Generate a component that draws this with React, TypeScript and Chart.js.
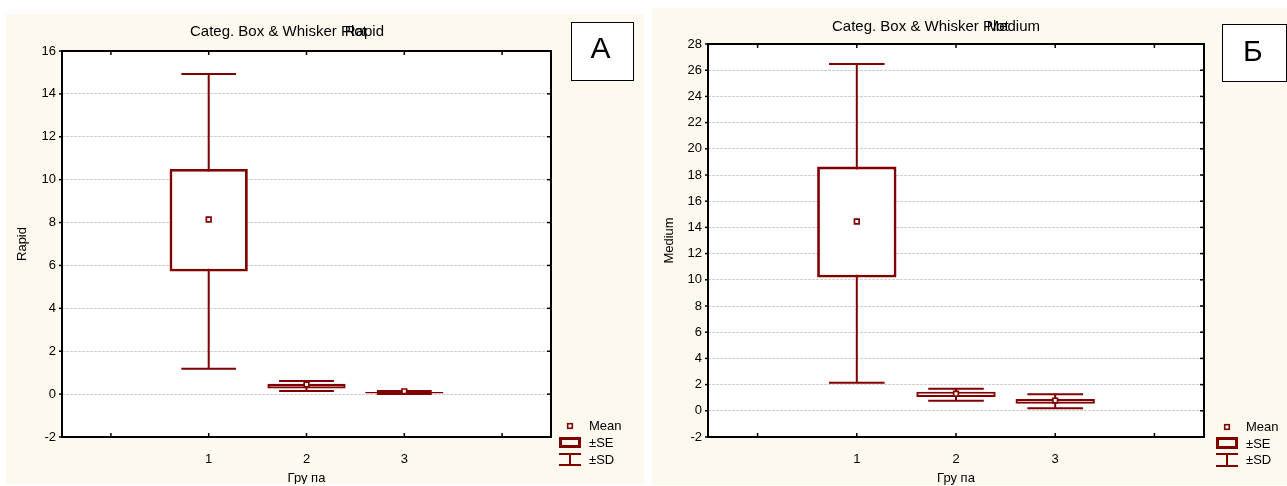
import React, { useEffect, useRef } from 'react';
import { Chart, registerables } from 'chart.js';

Chart.register(...registerables);

// ---------- data ----------
const groupPositions = [1, 2, 3];
const xTickValues = [0, 1, 2, 3, 4];
const xTickLabels = ['', '1', '2', '3', ''];
const xAxisTitle = 'Гру па';
const chartTitle = 'Categ. Box & Whisker Plot';
const legendLabels = ['Mean', '±SE', '±SD'];

const rapidMean = [8.14, 0.45, 0.13];
const rapidSeLow = [5.72, 0.26, 0.03];
const rapidSeHigh = [10.5, 0.48, 0.1];
const rapidSdLow = [1.18, 0.14, 0.0];
const rapidSdHigh = [14.93, 0.61, 0.14];
const rapidYTicks = [-2, 0, 2, 4, 6, 8, 10, 12, 14, 16];

const mediumMean = [14.45, 1.3, 0.78];
const mediumSeLow = [10.18, 1.05, 0.54];
const mediumSeHigh = [18.64, 1.46, 0.91];
const mediumSdLow = [2.14, 0.77, 0.19];
const mediumSdHigh = [26.47, 1.69, 1.26];
const mediumYTicks = [-2, 0, 2, 4, 6, 8, 10, 12, 14, 16, 18, 20, 22, 24, 26, 28];

// ---------- styles ----------
const MAROON = '#800000';
const CREAM = '#FEF9EE';
const FONT = '"Liberation Sans", Arial, sans-serif';
const CAP_HALF = 0.28;
const BOX_BORDER = [2.8, 2.2, 2.2];

Chart.defaults.font.family = FONT;
Chart.defaults.color = '#000';

const decorPlugin = {
  id: 'decor',
  beforeDraw(chart: any) {
    const { ctx, chartArea: a } = chart;
    ctx.save();
    ctx.fillStyle = '#fff';
    ctx.fillRect(a.left, a.top, a.right - a.left, a.bottom - a.top);
    ctx.restore();
  },
  afterDraw(chart: any, _args: any, o: any) {
    const { ctx, chartArea: a } = chart;
    const xs = chart.scales.x;
    const ys = chart.scales.y;
    ctx.save();
    // frame
    ctx.strokeStyle = '#000';
    ctx.lineWidth = 2;
    ctx.strokeRect(a.left, a.top, a.right - a.left, a.bottom - a.top);
    // inner ticks
    ctx.lineWidth = 1.5;
    const line = (x1: number, y1: number, x2: number, y2: number) => {
      ctx.beginPath();
      ctx.moveTo(x1, y1);
      ctx.lineTo(x2, y2);
      ctx.stroke();
    };
    xs.ticks.forEach((t: any) => {
      const px = xs.getPixelForValue(t.value);
      line(px, a.top, px, a.top + 4);
      line(px, a.bottom - 4, px, a.bottom);
    });
    ys.ticks.forEach((t: any) => {
      const py = ys.getPixelForValue(t.value);
      line(a.left - 3, py, a.left, py);
      line(a.right - 4, py, a.right, py);
    });
    // title (two overlapping pieces)
    ctx.fillStyle = '#000';
    ctx.font = '15px ' + FONT;
    ctx.textBaseline = 'middle';
    ctx.textAlign = 'left';
    ctx.fillText(o.title, o.titleLeftX, o.titleY);
    ctx.textAlign = 'right';
    ctx.fillText(o.titleVar, o.titleRightX, o.titleY);
    // letter box
    const lb = o.letterBox;
    ctx.fillStyle = '#fff';
    ctx.fillRect(lb[0], lb[1], lb[2], lb[3]);
    ctx.strokeStyle = '#000';
    ctx.lineWidth = 1;
    ctx.strokeRect(lb[0], lb[1], lb[2], lb[3]);
    ctx.fillStyle = '#000';
    ctx.font = '30px ' + FONT;
    ctx.textAlign = 'center';
    ctx.textBaseline = 'middle';
    ctx.fillText(o.letter, o.letterC[0], o.letterC[1]);
    // legend
    const L = o.legend;
    const cx = L.x + L.w / 2;
    ctx.strokeStyle = MAROON;
    ctx.fillStyle = '#fff';
    ctx.lineWidth = 1.6;
    ctx.fillRect(cx - 2.3, L.markerY - 2.3, 4.6, 4.6);
    ctx.strokeRect(cx - 2.3, L.markerY - 2.3, 4.6, 4.6);
    ctx.lineWidth = 3;
    ctx.strokeRect(L.x + 1.5, L.seTop + 1.5, L.w - 3, L.seH - 3);
    ctx.lineWidth = 2;
    line(L.x, L.sdTop + 1, L.x + L.w, L.sdTop + 1);
    line(L.x, L.sdTop + L.sdH - 1, L.x + L.w, L.sdTop + L.sdH - 1);
    line(cx, L.sdTop + 1, cx, L.sdTop + L.sdH - 1);
    ctx.fillStyle = '#000';
    ctx.font = '13px ' + FONT;
    ctx.textAlign = 'left';
    ctx.textBaseline = 'middle';
    legendLabels.forEach((t, i) => ctx.fillText(t, L.textX, L.textY[i]));
    ctx.restore();
  },
};

function buildConfig(p: any, g: any) {
  const whisker: any[] = [];
  groupPositions.forEach((x, i) => {
    const lo = p.sdLow[i];
    const hi = p.sdHigh[i];
    whisker.push(
      { x: x - CAP_HALF, y: hi }, { x: x + CAP_HALF, y: hi }, { x, y: null },
      { x, y: hi }, { x, y: lo }, { x, y: null },
      { x: x - CAP_HALF, y: lo }, { x: x + CAP_HALF, y: lo }, { x, y: null }
    );
  });
  const boxes = groupPositions.map((x, i) => ({ x, y: [p.seLow[i], p.seHigh[i]] }));
  const means = groupPositions.map((x, i) => ({ x, y: p.mean[i] }));
  const yTicks: number[] = p.yTicks;

  return {
    type: 'bar',
    data: {
      datasets: [
        {
          type: 'scatter',
          label: legendLabels[0],
          data: means,
          order: 0,
          pointStyle: 'rect',
          pointRadius: 3.3,
          borderWidth: 1.7,
          borderColor: MAROON,
          backgroundColor: '#fff',
        },
        {
          type: 'bar',
          label: legendLabels[1],
          data: boxes,
          order: 1,
          backgroundColor: '#fff',
          borderColor: MAROON,
          borderWidth: BOX_BORDER,
          borderSkipped: false,
          categoryPercentage: 0.8,
          barPercentage: 1,
        },
        {
          type: 'line',
          label: legendLabels[2],
          data: whisker,
          order: 2,
          borderColor: MAROON,
          borderWidth: 2,
          pointRadius: 0,
          fill: false,
          tension: 0,
          spanGaps: false,
          borderCapStyle: 'butt',
        },
      ],
    },
    options: {
      animation: false,
      responsive: false,
      devicePixelRatio: 1,
      events: [],
      layout: { padding: { left: 0, top: g.padTop, right: g.padRight, bottom: 0 } },
      plugins: {
        legend: { display: false },
        tooltip: { enabled: false },
        title: { display: false },
        decor: {
          title: chartTitle,
          titleVar: p.yLabel,
          titleLeftX: g.titleLeftX,
          titleRightX: g.titleRightX,
          titleY: g.titleY,
          letter: p.letter,
          letterBox: g.letterBox,
          letterC: g.letterC,
          legend: g.legend,
        },
      },
      scales: {
        x: {
          type: 'linear',
          min: -0.5,
          max: 4.5,
          offset: false,
          afterBuildTicks: (s: any) => {
            s.ticks = xTickValues.map((v) => ({ value: v }));
          },
          afterFit: (s: any) => {
            s.height = g.xHeight;
          },
          ticks: {
            autoSkip: false,
            maxRotation: 0,
            padding: 7,
            font: { size: 13 },
            color: '#000',
            callback: (_v: any, i: number) => xTickLabels[i],
          },
          grid: { display: false, offset: false },
          border: { display: false },
          title: {
            display: true,
            text: xAxisTitle,
            font: { size: 13, lineHeight: 1 },
            padding: { top: 0, bottom: g.xTitlePad },
            color: '#000',
          },
        },
        y: {
          type: 'linear',
          min: yTicks[0],
          max: yTicks[yTicks.length - 1],
          afterBuildTicks: (s: any) => {
            s.ticks = yTicks.map((v) => ({ value: v }));
          },
          afterFit: (s: any) => {
            s.width = g.yWidth;
          },
          ticks: {
            padding: 6,
            font: { size: 13 },
            color: '#000',
            callback: (v: any) => String(v),
          },
          grid: { display: true, drawTicks: false, color: '#d0d0d0', lineWidth: 1 },
          border: { display: false, dash: [3, 1] },
          title: {
            display: true,
            text: p.yLabel,
            font: { size: 13, lineHeight: 1 },
            padding: { top: g.yTitlePad, bottom: 0 },
            color: '#000',
          },
        },
      },
    },
    plugins: [decorPlugin],
  };
}

const rapidPanel = {
  yLabel: 'Rapid', letter: 'А',
  mean: rapidMean, seLow: rapidSeLow, seHigh: rapidSeHigh, sdLow: rapidSdLow, sdHigh: rapidSdHigh, yTicks: rapidYTicks,
};
const mediumPanel = {
  yLabel: 'Medium', letter: 'Б',
  mean: mediumMean, seLow: mediumSeLow, seHigh: mediumSeHigh, sdLow: mediumSdLow, sdHigh: mediumSdHigh, yTicks: mediumYTicks,
};

const leftGeom = {
  left: 6, top: 14, width: 638, height: 470,
  padTop: 37, padRight: 93, yWidth: 56, xHeight: 47, yTitlePad: 10, xTitlePad: -1,
  titleLeftX: 184, titleRightX: 378, titleY: 18.3,
  letterBox: [565.5, 8.5, 62, 58], letterC: [594.5, 36],
  legend: { x: 553, w: 22, markerY: 412, seTop: 423, seH: 11, sdTop: 439, sdH: 13, textX: 583, textY: [412, 429, 446] },
};
const rightGeom = {
  left: 652, top: 8, width: 635, height: 477,
  padTop: 36, padRight: 83, yWidth: 56, xHeight: 48, yTitlePad: 11, xTitlePad: 0,
  titleLeftX: 180, titleRightX: 388, titleY: 18.7,
  letterBox: [570.5, 16.5, 64, 57], letterC: [600.8, 45],
  legend: { x: 564, w: 22, markerY: 419, seTop: 429, seH: 12, sdTop: 445, sdH: 14, textX: 594, textY: [419, 436, 452] },
};

function Panel({ panel, geom }: { panel: any; geom: any }) {
  const ref = useRef<HTMLCanvasElement | null>(null);
  useEffect(() => {
    if (!ref.current) return;
    const chart = new Chart(ref.current, buildConfig(panel, geom) as any);
    return () => chart.destroy();
  }, []);
  return (
    <div
      style={{
        position: 'absolute',
        left: geom.left,
        top: geom.top,
        width: geom.width,
        height: geom.height,
        background: CREAM,
      }}
    >
      <canvas ref={ref} width={geom.width} height={geom.height} style={{ display: 'block' }} />
    </div>
  );
}

export default function App() {
  return (
    <div style={{ position: 'absolute', left: 0, top: 0, width: 1287, height: 486, background: '#fff', overflow: 'hidden' }}>
      <Panel panel={rapidPanel} geom={leftGeom} />
      <Panel panel={mediumPanel} geom={rightGeom} />
    </div>
  );
}
